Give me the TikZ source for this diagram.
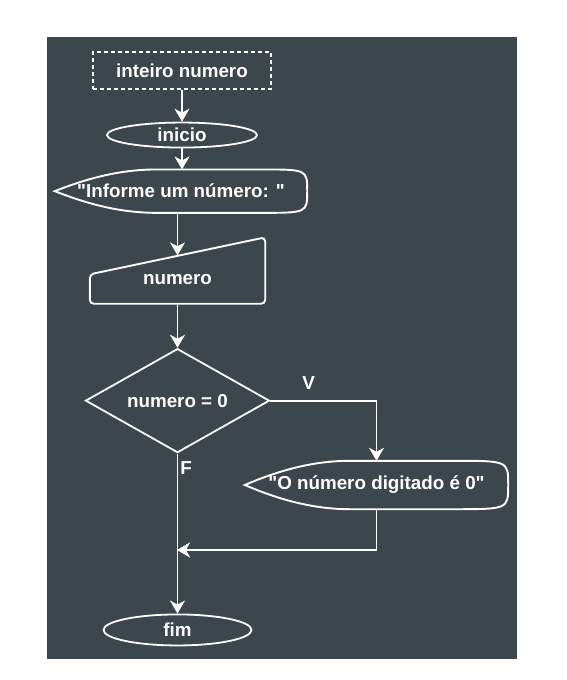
\documentclass[tikz,border=0pt]{standalone}
\usepackage{fontspec}
\setmainfont{Liberation Sans}
\usetikzlibrary{positioning,arrows.meta,shapes.geometric,calc}
\definecolor{bgcol}{RGB}{60,70,77}
\tikzstyle{declbox}=[rectangle, draw=white, line width=1.3pt, dash pattern=on 4pt off 3pt,
                    minimum width=178pt, minimum height=37pt, inner sep=2pt, text centered]
\tikzstyle{termbox}=[ellipse, draw=white, line width=1.8pt, inner sep=0pt, text centered]
\tikzstyle{dispbox}=[rectangle, inner sep=0pt, text centered]
\tikzstyle{readbox}=[rectangle, inner sep=0pt, minimum width=175pt, minimum height=48pt, text centered]
\tikzstyle{decbox}=[diamond, aspect=1.77, draw=white, line width=1.8pt, minimum width=184pt,
                    minimum height=104pt, inner sep=0pt, text centered]
\tikzstyle{pline}=[-, draw=white, line width=1.9pt]
\tikzstyle{aline}=[pline, -{Stealth[length=13pt,width=15pt,inset=4pt]}]
\tikzstyle{lbl}=[rectangle, inner sep=1pt]

\begin{document}
\begin{tikzpicture}[x=1pt, y=-1pt,
  every node/.style={text=white, font=\bfseries\fontsize{18.8}{22}\selectfont}]

\useasboundingbox (0,0) rectangle (566,680);
\fill[bgcol] (47,37) rectangle (517,659);

\node (DECL) [declbox] at (182,70.5) {inteiro numero};

\node (INIC) [termbox, minimum width=150pt, minimum height=25pt, below=32pt of DECL] {inicio};
 \draw[aline] (DECL.south) -- (INIC.north);

\node (MSGIN) [dispbox, minimum width=252pt, minimum height=43pt, below=21pt of INIC, xshift=-1pt] {\textquotedbl Informe um número: \textquotedbl};
 \draw[pline] (MSGIN.west) .. controls ($(MSGIN.west)+(28pt,11pt)$) and ($(MSGIN.north west)+(62pt,0)$) .. ($(MSGIN.north west)+(102pt,0)$)
   -- ($(MSGIN.north east)+(-47pt,0)$) .. controls (MSGIN.north east) .. (MSGIN.east)
   .. controls (MSGIN.south east) .. ($(MSGIN.south east)+(-47pt,0)$)
   -- ($(MSGIN.south west)+(102pt,0)$) .. controls ($(MSGIN.south west)+(62pt,0)$) and ($(MSGIN.west)+(28pt,-11pt)$) .. (MSGIN.west) -- cycle;
 \draw[aline] (INIC.south) -- (INIC.south |- MSGIN.north);

\node (READ) [readbox, below=42.5pt of MSGIN, xshift=-3.5pt] {numero};
 \draw[pline, rounded corners=4pt] ($(READ.north west)+(0,-19pt)$) -- ($(READ.north east)+(0,18pt)$)
   -- (READ.south east) -- (READ.south west) -- cycle;
 \draw[aline] (MSGIN.south -| READ.north) -- (READ.north);

\node (TEST) [decbox, below=44pt of READ] {numero = 0};
 \draw[aline] (READ.south -| TEST.north) -- (TEST.north);

\node (MSGOUT) [dispbox, minimum width=263pt, minimum height=48pt] at (376.5,485) {\textquotedbl O número digitado é 0\textquotedbl};
 \draw[pline] (MSGOUT.west) .. controls ($(MSGOUT.west)+(28pt,12pt)$) and ($(MSGOUT.north west)+(64pt,0)$) .. ($(MSGOUT.north west)+(105pt,0)$)
   -- ($(MSGOUT.north east)+(-55pt,0)$) .. controls (MSGOUT.north east) .. (MSGOUT.east)
   .. controls (MSGOUT.south east) .. ($(MSGOUT.south east)+(-55pt,0)$)
   -- ($(MSGOUT.south west)+(105pt,0)$) .. controls ($(MSGOUT.south west)+(64pt,0)$) and ($(MSGOUT.west)+(28pt,-12pt)$) .. (MSGOUT.west) -- cycle;
 \draw[aline] (TEST.east) -| node (LBLV) [lbl, pos=0.18, above=9pt] {V} (MSGOUT.north);

\node (FIM) [termbox, minimum width=148pt, minimum height=31pt, below=160pt of TEST] {fim};
 \draw[aline] (TEST.south) -- node (LBLF) [lbl, pos=0.09, right=1pt] {F} (FIM.north);

\coordinate (MERGE) at (177,550);
 \draw[aline] (MSGOUT.south) |- (MERGE);

\end{tikzpicture}
\end{document}
